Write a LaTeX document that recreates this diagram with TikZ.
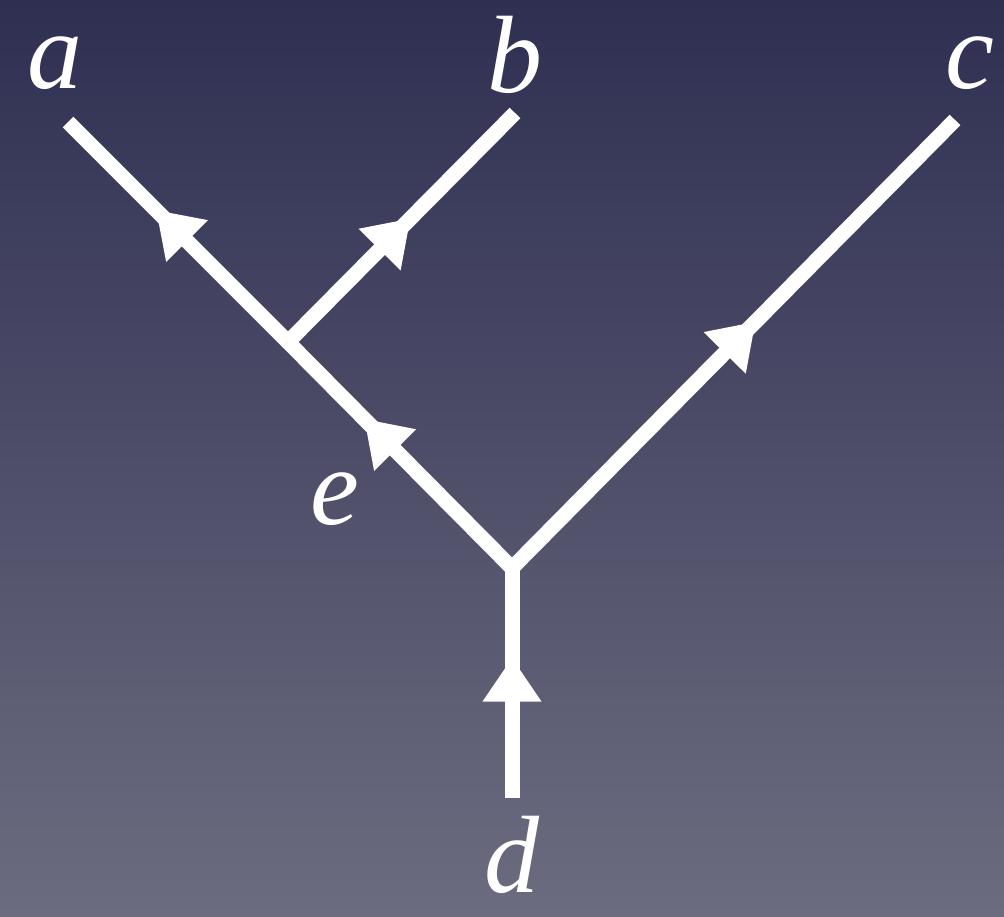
\documentclass[tikz,border=0pt]{standalone}
\usepackage{fontspec}
\setmainfont{Liberation Serif}
\usetikzlibrary{arrows.meta,decorations.markings}
\definecolor{bgtop}{RGB}{47,47,82}
\definecolor{bgbot}{RGB}{108,108,128}
\tikzset{
  lineline/.style={white,line width=15pt},
  midarrow/.style={postaction={decorate},
    decoration={markings,mark=at position #1 with
      {\arrow{Triangle[width=56pt,length=44pt]}}}},
  leglabel/.style={white,anchor=base,inner sep=0pt,text height=0.7em,text depth=0pt,
    font=\fontsize{110}{112}\selectfont\itshape}
}

\begin{document}
\begin{tikzpicture}[x=1pt,y=-1pt]
  \shade[top color=bgtop,bottom color=bgbot] (0,0) rectangle (1004,916);
  \useasboundingbox (0,0) rectangle (1004,916);
  % vertices
  \coordinate (va) at (68,122);
  \coordinate (vb) at (515,113);
  \coordinate (vc) at (955,120);
  \coordinate (vd) at (512,798);
  \coordinate (vj) at (288,342);
  \coordinate (vm) at (512,568);
  % lines
  \draw[lineline,midarrow=0.6] (vj) -- (va);
  \draw[lineline,midarrow=0.54] (vj) -- (vb);
  \draw[lineline,midarrow=0.66] (vm) -- (vj);
  \draw[lineline,midarrow=0.55] (vm) -- (vc);
  \draw[lineline,midarrow=0.61] (vd) -- (vm);
  % labels
  \node[leglabel] (la) at (55,88) {a};
  \node[leglabel] (lb) at (515,92) {b};
  \node[leglabel] (lc) at (970,88) {c};
  \node[leglabel] (le) at (335,524) {e};
  \node[leglabel] (ld) at (512,892) {d};
\end{tikzpicture}
\end{document}
